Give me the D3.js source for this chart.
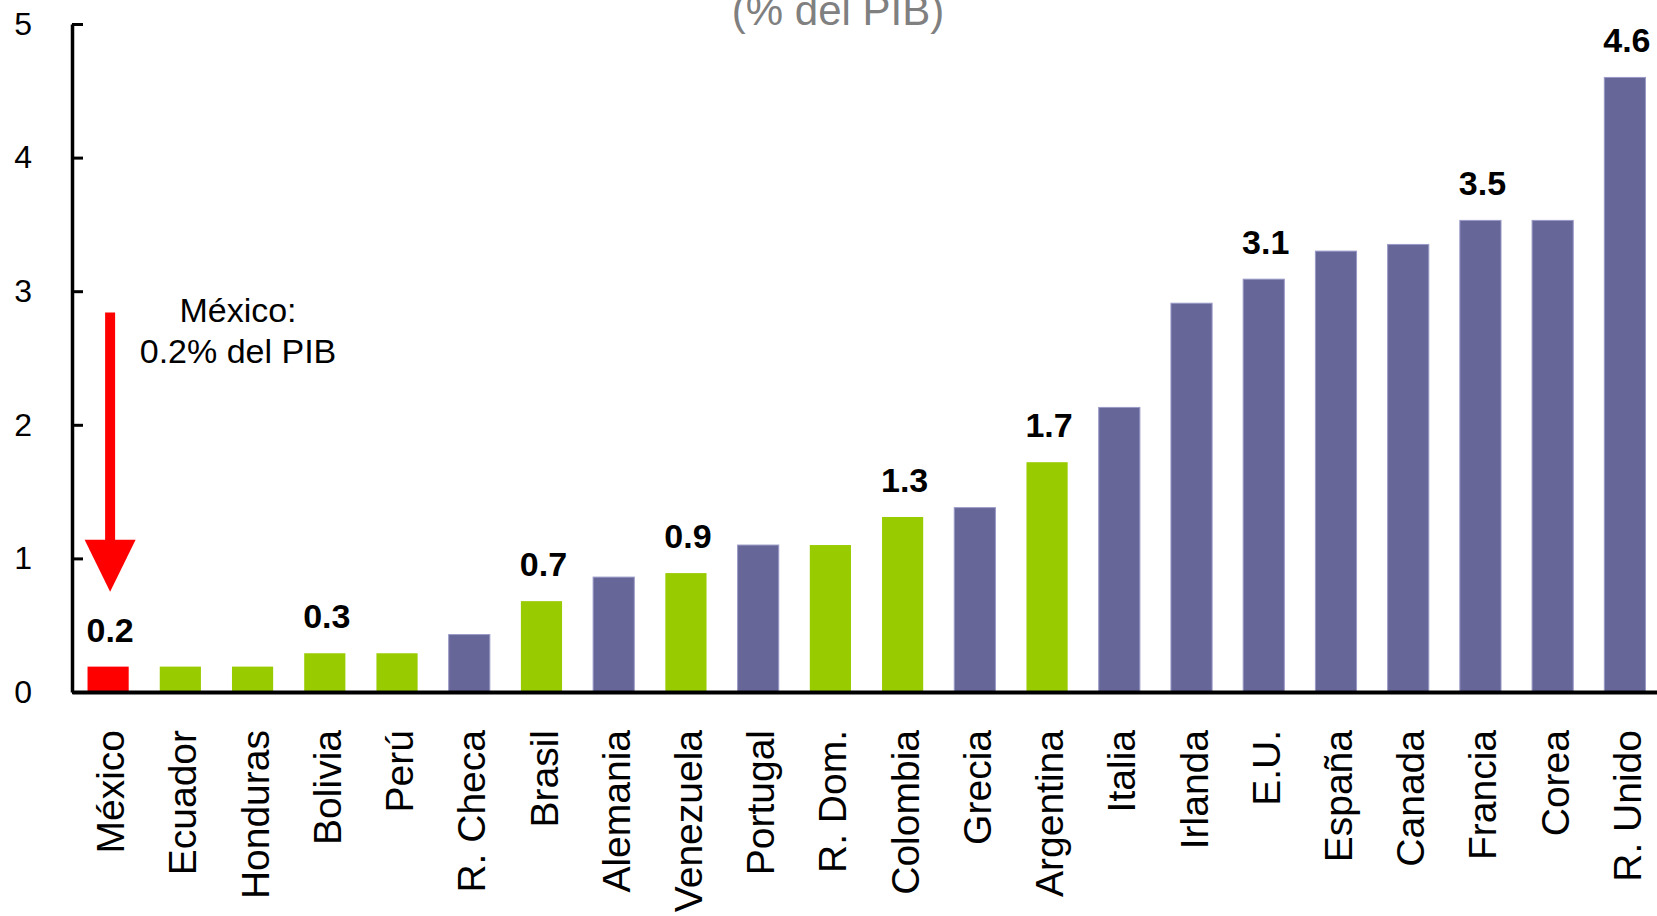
<!DOCTYPE html>
<html>
<head>
<meta charset="utf-8">
<script src="https://cdn.jsdelivr.net/npm/d3@7/dist/d3.min.js"></script>
<style>
body{margin:0;background:#fff;}
</style>
</head>
<body>
<div id="chart"></div>
<script>
// datos
var countries = ["México","Ecuador","Honduras","Bolivia","Perú","R. Checa","Brasil","Alemania","Venezuela","Portugal","R. Dom.","Colombia","Grecia","Argentina","Italia","Irlanda","E.U.","España","Canada","Francia","Corea","R. Unido"];
var values = [0.19,0.19,0.19,0.29,0.29,0.43,0.68,0.86,0.89,1.1,1.1,1.31,1.38,1.72,2.13,2.91,3.09,3.30,3.35,3.53,3.53,4.60];
var groups = ["mx","al","al","al","al","oc","al","oc","al","oc","al","al","oc","al","oc","oc","oc","oc","oc","oc","oc","oc"];
var labelled = ["México","Bolivia","Brasil","Venezuela","Colombia","Argentina","E.U.","Francia","R. Unido"];
var yTicks = [0,1,2,3,4,5];
var noteLines = ["México:","0.2% del PIB"];
var arrowFrom = 2.84, arrowTo = 0.75;

var width = 1657, height = 916;
var startX = 72, endX = 1661;
var topY = 24, baseY = 692;
var colors = {mx:"#FF0000", al:"#99CC00", oc:"#666699"};
var font = "Arial, 'Liberation Sans', sans-serif";

var svg = d3.select("#chart").append("svg").attr("width", width).attr("height", height);

var xScale = d3.scaleBand().domain(countries).range([startX, endX]).paddingInner(0.43).paddingOuter(0.215);
var yScale = d3.scaleLinear().domain([0, 5]).range([baseY, topY]);

var data = countries.map(function(c, i){ return {name:c, value:values[i], group:groups[i]}; });

//titulo (cortado arriba)
svg.append("text").text("(% del PIB)").attr("x", 838).attr("y", 25)
    .attr("text-anchor", "middle").attr("font-size", 42).attr("fill", "#808080").attr("font-family", font);

//barras
svg.selectAll(".bar").data(data).enter().append("rect").attr("class", "bar")
    .attr("x", function(d){ return xScale(d.name); })
    .attr("y", function(d){ return yScale(d.value); })
    .attr("width", xScale.bandwidth())
    .attr("height", function(d){ return yScale(0) - yScale(d.value); })
    .attr("fill", function(d){ return colors[d.group]; })
    .attr("stroke", function(d){ return d.group == "oc" ? "#9a9ac8" : "none"; })
    .attr("stroke-width", 1);

//etiquetas de valor
var fmt = d3.format(".1f");
svg.selectAll(".val").data(data.filter(function(d){ return labelled.indexOf(d.name) >= 0; })).enter().append("text")
    .text(function(d){ return fmt(d.value); })
    .attr("x", function(d){ return xScale(d.name) + xScale.bandwidth()/2 + 2; })
    .attr("y", function(d){ return yScale(d.value) - 25; })
    .attr("text-anchor", "middle").attr("font-size", 34).attr("font-weight", "bold")
    .attr("font-family", font).attr("fill", "#000");

//eje y
var yAxis = svg.append("g").attr("transform", "translate(" + startX + ",0)")
    .call(d3.axisLeft(yScale).tickValues(yTicks).tickFormat(d3.format("d")).tickSizeInner(-11).tickSizeOuter(0).tickPadding(40));
yAxis.select(".domain").attr("stroke", "#000").attr("stroke-width", 3.5);
yAxis.selectAll(".tick line").attr("stroke", "#000").attr("stroke-width", 3);
yAxis.selectAll(".tick text").attr("font-size", 32).attr("font-family", font).attr("fill", "#000");

//eje x
var xAxis = svg.append("g").attr("transform", "translate(0," + baseY + ")")
    .call(d3.axisBottom(xScale).tickSize(0).tickSizeOuter(0));
xAxis.select(".domain").attr("stroke", "#000").attr("stroke-width", 4);
xAxis.selectAll(".tick text")
    .attr("transform", "rotate(-90)").attr("x", -38).attr("y", 2).attr("dy", "0.36em")
    .style("text-anchor", "end").attr("font-size", 39).attr("font-family", font).attr("fill", "#000");

//flecha roja sobre Mexico
var ax = xScale("México") + xScale.bandwidth()/2 + 2;
var headTop = yScale(arrowTo) - 52;
svg.append("line").attr("x1", ax).attr("y1", yScale(arrowFrom)).attr("x2", ax).attr("y2", headTop + 1)
    .attr("stroke", "#FF0000").attr("stroke-width", 10);
svg.append("path")
    .attr("d", "M" + (ax - 25.5) + "," + headTop + "L" + (ax + 25.5) + "," + headTop + "L" + ax + "," + yScale(arrowTo) + "Z")
    .attr("fill", "#FF0000");

//nota
svg.selectAll(".note").data(noteLines).enter().append("text").text(function(d){ return d; })
    .attr("x", 238).attr("y", function(d, i){ return 322 + i*41; })
    .attr("text-anchor", "middle").attr("font-size", 34).attr("font-family", font).attr("fill", "#000");
</script>
</body>
</html>
